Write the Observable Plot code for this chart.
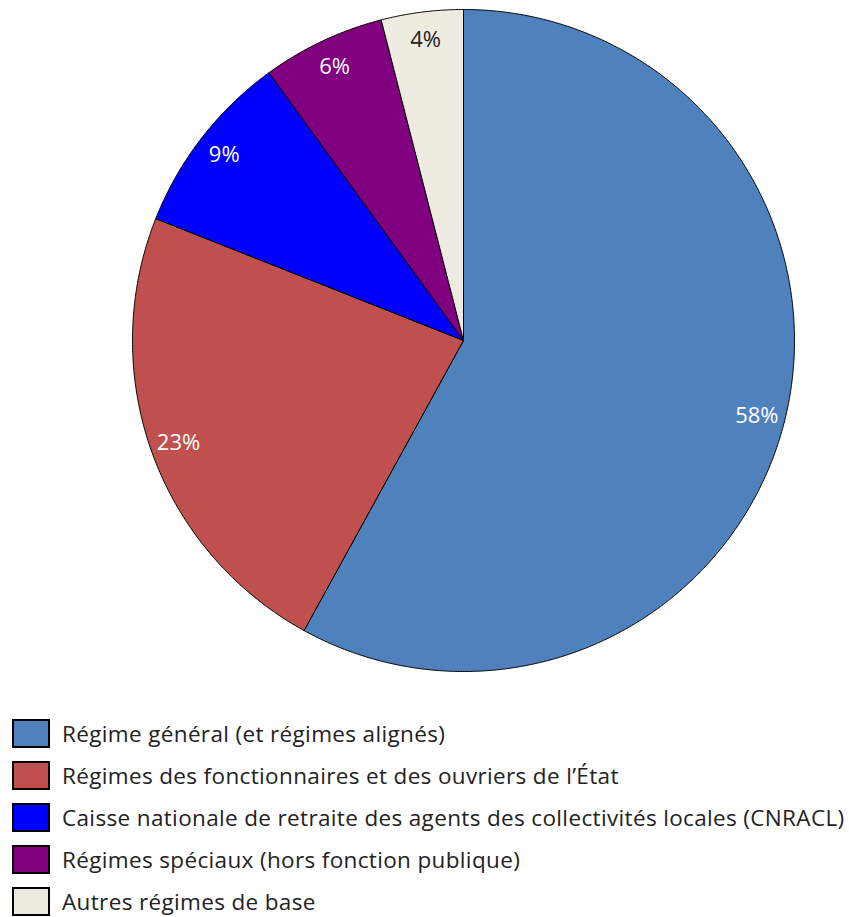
<!DOCTYPE html>
<html><head><meta charset="utf-8">
<script src="https://cdn.jsdelivr.net/npm/d3@7"></script>
<script src="https://cdn.jsdelivr.net/npm/@observablehq/plot@0.6"></script>
<style>
body{margin:0;background:#fff;font-family:"Open Sans",sans-serif;}
#legend{position:absolute;left:12px;top:712px;}
.item{display:flex;align-items:center;height:42px;margin:0;}
.sw{width:34px;height:25px;border:2px solid #000;margin-right:12px;box-sizing:content-box;}
.lab{font-size:22.5px;letter-spacing:0.35px;color:#222;white-space:nowrap;}
#chart{position:absolute;left:0;top:0;}
</style></head><body>
<div id="chart"></div>
<div id="legend"></div>
<script>
const categories = [
  "Régime général (et régimes alignés)",
  "Régimes des fonctionnaires et des ouvriers de l’État",
  "Caisse nationale de retraite des agents des collectivités locales (CNRACL)",
  "Régimes spéciaux (hors fonction publique)",
  "Autres régimes de base"
];
const values = [58, 23, 9, 6, 4];
const labels = ["58%", "23%", "9%", "6%", "4%"];
const colors = ["#4F81BD", "#C0504D", "#0000FF", "#800080", "#EEECE1"];
const labelColors = ["#fff", "#fff", "#fff", "#fff", "#222"];

const total = d3.sum(values);
let acc = 0;
const slices = values.map((v, i) => {
  const a0 = acc / total * 2 * Math.PI;
  acc += v;
  const a1 = acc / total * 2 * Math.PI;
  return {i, cat: categories[i], a0, a1, v};
});
// polygon points for each sector (angle from 12 o'clock clockwise)
const pts = [];
for (const s of slices) {
  pts.push({cat: s.cat, x: 0, y: 0});
  const n = Math.max(2, Math.ceil((s.a1 - s.a0) / 0.005));
  for (let k = 0; k <= n; k++) {
    const a = s.a0 + (s.a1 - s.a0) * k / n;
    pts.push({cat: s.cat, x: Math.sin(a), y: Math.cos(a)});
  }
  pts.push({cat: s.cat, x: 0, y: 0});
}
const lab = slices.map(s => {
  const m = (s.a0 + s.a1) / 2;
  return {x: 0.915 * Math.sin(m), y: 0.915 * Math.cos(m), t: labels[s.i], c: labelColors[s.i]};
});

const plot = Plot.plot({
  width: 849, height: 680,
  marginLeft: 132, marginRight: 55, marginTop: 9, marginBottom: 9,
  x: {domain: [-1, 1], axis: null},
  y: {domain: [-1, 1], axis: null},
  color: {domain: categories, range: colors},
  marks: [
    Plot.line(pts, {x: "x", y: "y", z: "cat", fill: "cat", stroke: "#000", strokeWidth: 1, strokeLinejoin: "round", curve: "linear"}),
    Plot.text(lab, {x: "x", y: "y", text: "t", fill: "c", fontSize: 22, fontFamily: "'Open Sans', sans-serif"})
  ]
});
document.getElementById("chart").appendChild(plot);

const leg = document.getElementById("legend");
categories.forEach((c, i) => {
  const d = document.createElement("div"); d.className = "item";
  const sw = document.createElement("div"); sw.className = "sw"; sw.style.background = colors[i];
  const t = document.createElement("span"); t.className = "lab"; t.textContent = c;
  d.appendChild(sw); d.appendChild(t); leg.appendChild(d);
});
</script>
</body></html>
